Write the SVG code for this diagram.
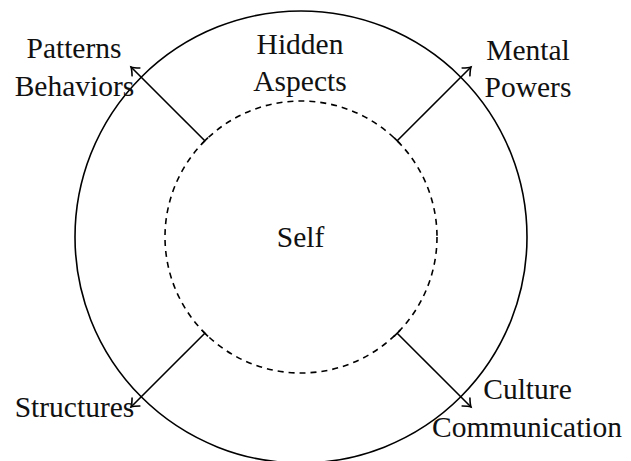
<svg xmlns="http://www.w3.org/2000/svg" width="631" height="461" viewBox="0 0 631 461">
<style>
  text { font-family: "Liberation Serif", "DejaVu Serif", serif; font-size: 29.5px; fill: #111; text-anchor: middle; }
  .ring { fill: none; stroke: #000; stroke-width: 1.6; }
  .dash { fill: none; stroke: #000; stroke-width: 1.6; stroke-dasharray: 6 5; }
  .conn { fill: none; stroke: #000; stroke-width: 1.6; marker-start: url(#bar); marker-end: url(#head); }
</style>
<defs>
  <marker id="head" markerUnits="userSpaceOnUse" viewBox="-10 -8 12 16" refX="0" refY="0" markerWidth="12" markerHeight="16" orient="auto" overflow="visible">
    <path d="M -7 -5.5 Q -2.5 -1.2 0 0 Q -2.5 1.2 -7 5.5" fill="none" stroke="#000" stroke-width="1.6" stroke-linecap="round"/>
  </marker>
  <marker id="bar" markerUnits="userSpaceOnUse" viewBox="-2 -6 4 12" refX="0" refY="0" markerWidth="4" markerHeight="12" orient="auto" overflow="visible">
    <path d="M 0 -4.5 L 0 4.5" fill="none" stroke="#000" stroke-width="1.6"/>
  </marker>
</defs>

<g id="outer-ring"><circle class="ring" cx="301" cy="237" r="226"/></g>

<g id="self">
  <circle class="dash" cx="301" cy="237" r="136"/>
  <text x="300.5" y="247">Self</text>
</g>

<g id="connectors">
  <line class="conn" x1="204.8" y1="140.8" x2="131" y2="67"/>
  <line class="conn" x1="397.2" y1="140.8" x2="471" y2="67"/>
  <line class="conn" x1="204.8" y1="333.2" x2="131" y2="407"/>
  <line class="conn" x1="397.2" y1="333.2" x2="471" y2="407"/>
</g>

<g id="hidden-aspects">
  <text x="300" y="54">Hidden</text>
  <text x="300" y="91">Aspects</text>
</g>
<g id="patterns-behaviors">
  <text x="74" y="58">Patterns</text>
  <text x="74.5" y="96">Behaviors</text>
</g>
<g id="mental-powers">
  <text x="528" y="60">Mental</text>
  <text x="528" y="97">Powers</text>
</g>
<g id="structures">
  <text x="74.5" y="417">Structures</text>
</g>
<g id="culture-communication">
  <text x="527.5" y="399">Culture</text>
  <text x="527" y="437">Communication</text>
</g>
</svg>
